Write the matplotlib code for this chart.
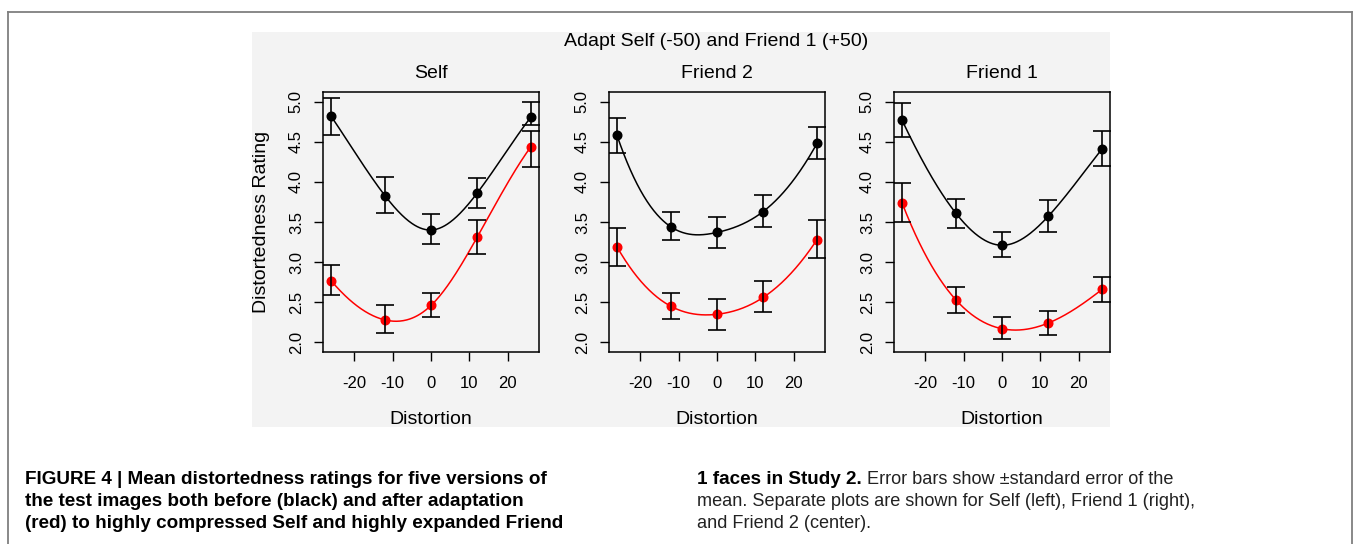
"""Distortedness ratings before/after adaptation, three face panels with spline fits."""

import numpy as np
import matplotlib
matplotlib.use('Agg')
import matplotlib.pyplot as plt
from matplotlib.patches import Rectangle
from matplotlib.lines import Line2D
from matplotlib.transforms import blended_transform_factory

plt.rcParams['font.family'] = ['Liberation Sans', 'DejaVu Sans']

# Data
distortion = [-26, -12, 0, 12, 26]
panel_titles = ['Self', 'Friend 2', 'Friend 1']
suptitle = 'Adapt Self (-50) and Friend 1 (+50)'

# before adaptation (black): mean, lower and upper end of error bar
self_before = [4.82, 3.83, 3.40, 3.86, 4.81]
self_before_lo = [4.59, 3.61, 3.22, 3.68, 4.71]
self_before_hi = [5.05, 4.06, 3.60, 4.05, 5.00]
friend2_before = [4.58, 3.44, 3.37, 3.63, 4.48]
friend2_before_lo = [4.36, 3.28, 3.18, 3.44, 4.29]
friend2_before_hi = [4.80, 3.62, 3.56, 3.84, 4.68]
friend1_before = [4.77, 3.61, 3.21, 3.57, 4.41]
friend1_before_lo = [4.56, 3.43, 3.07, 3.37, 4.20]
friend1_before_hi = [4.98, 3.79, 3.37, 3.78, 4.64]

# after adaptation (red)
self_after = [2.77, 2.28, 2.46, 3.31, 4.44]
self_after_lo = [2.59, 2.12, 2.31, 3.10, 4.19]
self_after_hi = [2.96, 2.46, 2.62, 3.52, 4.63]
friend2_after = [3.19, 2.45, 2.35, 2.56, 3.28]
friend2_after_lo = [2.95, 2.29, 2.16, 2.38, 3.05]
friend2_after_hi = [3.43, 2.61, 2.54, 2.76, 3.53]
friend1_after = [3.74, 2.53, 2.17, 2.24, 2.66]
friend1_after_lo = [3.50, 2.37, 2.04, 2.09, 2.50]
friend1_after_hi = [3.98, 2.69, 2.32, 2.39, 2.82]

x_ticks = [-20, -10, 0, 10, 20]
y_ticks = [2.0, 2.5, 3.0, 3.5, 4.0, 4.5, 5.0]

caption_left = [
    'FIGURE 4 | Mean distortedness ratings for five versions of',
    'the test images both before (black) and after adaptation',
    '(red) to highly compressed Self and highly expanded Friend',
]
caption_right_bold = '1 faces in Study 2.'
caption_right = [
    ' Error bars show \u00b1standard error of the',
    'mean. Separate plots are shown for Self (left), Friend 1 (right),',
    'and Friend 2 (center).',
]

W, H = 1354, 544


def fmm_spline(x, y, xs):
    # cubic interpolating spline with FMM end conditions (as R's spline())
    x = np.asarray(x, float)
    y = np.asarray(y, float)
    n = len(x)
    h = np.diff(x)
    d = np.diff(y) / h
    A = np.zeros((n, n))
    b = np.zeros(n)
    for i in range(1, n - 1):
        A[i, i - 1] = h[i - 1]
        A[i, i] = 2 * (h[i - 1] + h[i])
        A[i, i + 1] = h[i]
        b[i] = 6 * (d[i] - d[i - 1])

    def dd3(xx, yy):
        c = list(yy)
        for k in range(1, 4):
            c = [(c[j + 1] - c[j]) / (xx[j + k] - xx[j]) for j in range(len(c) - 1)]
        return c[0]

    A[0, 0], A[0, 1] = -1 / h[0], 1 / h[0]
    b[0] = 6 * dd3(x[:4], y[:4])
    A[-1, -2], A[-1, -1] = -1 / h[-1], 1 / h[-1]
    b[-1] = 6 * dd3(x[-4:], y[-4:])
    M = np.linalg.solve(A, b)

    idx = np.clip(np.searchsorted(x, xs) - 1, 0, n - 2)
    x0, x1 = x[idx], x[idx + 1]
    hh = x1 - x0
    y0, y1 = y[idx], y[idx + 1]
    m0, m1 = M[idx], M[idx + 1]
    return (m0 * (x1 - xs) ** 3 / (6 * hh) + m1 * (xs - x0) ** 3 / (6 * hh)
            + (y0 / hh - m0 * hh / 6) * (x1 - xs) + (y1 / hh - m1 * hh / 6) * (xs - x0))


fig = plt.figure(figsize=(W / 100, H / 100), dpi=100)

# light grey plotting region of the embedded figure
fig.add_artist(Rectangle((252 / W, 1 - 427 / H), (1110 - 252) / W, (427 - 32) / H,
                         transform=fig.transFigure, facecolor='#f3f3f3',
                         edgecolor='none', zorder=-10))

# page frame
frame_kw = dict(transform=fig.transFigure, color='#7f7f7f', lw=1.3)
fig.add_artist(Line2D([8 / W, 1352 / W], [1 - 12 / H, 1 - 12 / H], **frame_kw))
fig.add_artist(Line2D([8 / W, 8 / W], [1 - 12 / H, 0], **frame_kw))
fig.add_artist(Line2D([1352 / W, 1352 / W], [1 - 12 / H, 0], **frame_kw))

panels = [
    (self_before, self_before_lo, self_before_hi, self_after, self_after_lo, self_after_hi),
    (friend2_before, friend2_before_lo, friend2_before_hi, friend2_after, friend2_after_lo, friend2_after_hi),
    (friend1_before, friend1_before_lo, friend1_before_hi, friend1_after, friend1_after_lo, friend1_after_hi),
]
lefts = [323, 609, 894]
ax_w, ax_top, ax_bot = 216, 92, 352
xs = np.linspace(distortion[0], distortion[-1], 300)

for k, (title, pdata) in enumerate(zip(panel_titles, panels)):
    ax = fig.add_axes([lefts[k] / W, 1 - ax_bot / H, ax_w / W, (ax_bot - ax_top) / H])
    ax.set_facecolor('#f3f3f3')
    for m, lo, hi, col in [(pdata[0], pdata[1], pdata[2], 'black'),
                           (pdata[3], pdata[4], pdata[5], '#ff0000')]:
        m = np.asarray(m)
        ax.plot(xs, fmm_spline(distortion, m, xs), color=col, lw=1.1, zorder=2)
        ax.plot(distortion, m, 'o', color=col, ms=6.2, zorder=3)
        ax.errorbar(distortion, m, yerr=[m - np.asarray(lo), np.asarray(hi) - m],
                    fmt='none', ecolor='black', elinewidth=1.2, capsize=6.5,
                    capthick=1.2, zorder=4)
    ax.set_xlim(-28.08, 28.08)
    ax.set_ylim(1.88, 5.12)
    ax.set_xticks(x_ticks)
    ax.set_xticklabels([str(t) for t in x_ticks])
    ax.set_yticks(y_ticks)
    ax.set_yticklabels(['%.1f' % t for t in y_ticks], rotation=90, va='center')
    ax.tick_params(axis='both', direction='out', length=6.8, width=1.0,
                   labelsize=12, color='black')
    ax.tick_params(axis='x', pad=10.5)
    ax.tick_params(axis='y', pad=7)
    for sp in ax.spines.values():
        sp.set_linewidth(1.1)
        sp.set_color('black')

    tr = blended_transform_factory(ax.transAxes, fig.transFigure)
    ax.text(0.5, 1 - 73 / H, title, transform=tr, ha='center', va='center', fontsize=14)
    ax.text(0.5, 1 - 420 / H, 'Distortion', transform=tr, ha='center', va='center', fontsize=14)
    if k == 0:
        fig.text(262 / W, 1 - 222 / H, 'Distortedness Rating', rotation=90,
                 ha='center', va='center', fontsize=14)

fig.text(716 / W, 1 - 41 / H, suptitle, ha='center', va='center', fontsize=14)

# caption
baselines = [483.5, 506.5, 528.5]
for line, yb in zip(caption_left, baselines):
    fig.text(25 / W, 1 - yb / H, line, ha='left', va='baseline',
             fontsize=13.6, fontweight='bold')
bold = fig.text(697 / W, 1 - baselines[0] / H, caption_right_bold, ha='left',
                va='baseline', fontsize=13.6, fontweight='bold')
fig.canvas.draw()
bb = bold.get_window_extent()
fig.text(bb.x1 / W, 1 - baselines[0] / H, caption_right[0], ha='left',
         va='baseline', fontsize=13.1, color='#222222')
for line, yb in zip(caption_right[1:], baselines[1:]):
    fig.text(697 / W, 1 - yb / H, line, ha='left', va='baseline',
             fontsize=13.1, color='#222222')

fig.savefig('out.png', dpi=100)
